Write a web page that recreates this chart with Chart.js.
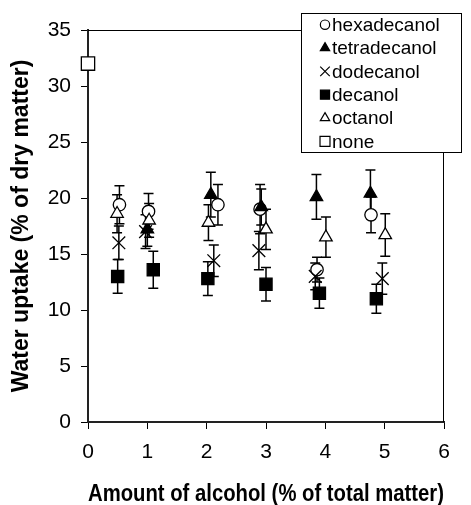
<!DOCTYPE html>
<html>
<head>
<meta charset="utf-8">
<script src="https://cdn.jsdelivr.net/npm/chart.js@4/dist/chart.umd.min.js"></script>
<style>
  html, body { margin: 0; padding: 0; background: #fff; }
  #wrap { width: 471px; height: 505px; }
</style>
</head>
<body>
<div id="wrap"><canvas id="c" width="471" height="505"></canvas></div>
<script>
// ---- data ----
const seriesNames = ['hexadecanol', 'tetradecanol', 'dodecanol', 'decanol', 'octanol', 'none'];

const hexadecanolX = [0.53, 1.02, 2.19, 2.90, 3.86, 4.77];
const hexadecanolY = [19.4, 18.8, 19.4, 19.0, 13.6, 18.5];
const hexadecanolErr = [1.7, 1.6, 1.8, 2.2, 1.1, 1.6];

const tetradecanolX = [1.00, 2.07, 2.92, 3.85, 4.76];
const tetradecanolY = [17.2, 20.3, 19.2, 20.1, 20.4];
const tetradecanolErr = [1.5, 2.0, 1.6, 2.0, 2.1];

const dodecanolX = [0.52, 0.97, 2.12, 2.88, 3.83, 4.96];
const dodecanolY = [16.0, 17.0, 14.4, 15.3, 13.0, 12.8];
const dodecanolErr = [1.5, 1.5, 1.4, 1.7, 1.2, 1.4];

const decanolX = [0.50, 1.10, 2.02, 3.00, 3.90, 4.86];
const decanolY = [13.0, 13.6, 12.8, 12.3, 11.5, 11.0];
const decanolErr = [1.5, 1.65, 1.5, 1.5, 1.35, 1.3];

const octanolX = [0.49, 1.03, 2.03, 3.00, 4.01, 5.01];
const octanolY = [18.6, 18.0, 17.8, 17.2, 16.5, 16.7];
const octanolErr = [1.7, 1.5, 1.6, 1.8, 1.8, 1.9];

const noneX = [0];
const noneY = [32.0];
const noneErr = [0];

const xTicks = [0, 1, 2, 3, 4, 5, 6];
const yTicks = [0, 5, 10, 15, 20, 25, 30, 35];

const xTitle = 'Amount of alcohol (% of total matter)';
const yTitle = 'Water uptake (% of dry matter)';

// ---- build datasets ----
function pts(xs, ys) { return xs.map((x, i) => ({ x: x, y: ys[i] })); }

const styles = [
  { pointStyle: 'circle',   radius: 6.2, fill: '#ffffff' },
  { pointStyle: 'triangle', radius: 7.2, fill: '#000000' },
  { pointStyle: 'crossRot', radius: 9.0, fill: '#000000' },
  { pointStyle: 'rect',     radius: 8.6, fill: '#000000' },
  { pointStyle: 'triangle', radius: 7.2, fill: '#ffffff' },
  { pointStyle: 'rect',     radius: 9.4, fill: '#ffffff' }
];
const xsAll = [hexadecanolX, tetradecanolX, dodecanolX, decanolX, octanolX, noneX];
const ysAll = [hexadecanolY, tetradecanolY, dodecanolY, decanolY, octanolY, noneY];
const errAll = [hexadecanolErr, tetradecanolErr, dodecanolErr, decanolErr, octanolErr, noneErr];

const datasets = seriesNames.map((name, i) => ({
  label: name,
  data: pts(xsAll[i], ysAll[i]),
  errors: errAll[i],
  pointStyle: styles[i].pointStyle,
  pointRadius: styles[i].radius,
  pointHoverRadius: styles[i].radius,
  pointBackgroundColor: styles[i].fill,
  pointBorderColor: '#000000',
  pointBorderWidth: 1.3,
  showLine: false,
  clip: false,
  order: -i
}));

const FONT = "'Liberation Sans', Arial, Helvetica, sans-serif";

// error bars (drawn beneath markers)
const errorBarPlugin = {
  id: 'errorBars',
  beforeDatasetsDraw(chart) {
    const ctx = chart.ctx;
    const xs = chart.scales.x, ys = chart.scales.y;
    ctx.save();
    ctx.strokeStyle = '#000';
    ctx.lineWidth = 1.5;
    chart.data.datasets.forEach(ds => {
      ds.data.forEach((p, i) => {
        const e = ds.errors[i];
        if (!e) return;
        const px = xs.getPixelForValue(p.x);
        const top = ys.getPixelForValue(p.y + e);
        const bot = ys.getPixelForValue(p.y - e);
        ctx.beginPath();
        ctx.moveTo(px, top); ctx.lineTo(px, bot);
        ctx.moveTo(px - 5, top); ctx.lineTo(px + 5, top);
        ctx.moveTo(px - 5, bot); ctx.lineTo(px + 5, bot);
        ctx.stroke();
      });
    });
    ctx.restore();
  }
};

// plot frame (top and right edges)
const framePlugin = {
  id: 'frame',
  beforeDatasetsDraw(chart) {
    const a = chart.chartArea, ctx = chart.ctx;
    ctx.save();
    ctx.strokeStyle = '#000';
    ctx.lineWidth = 1;
    ctx.beginPath();
    ctx.moveTo(a.left, a.top + 0.5);
    ctx.lineTo(a.right - 0.5, a.top + 0.5);
    ctx.lineTo(a.right - 0.5, a.bottom);
    ctx.stroke();
    ctx.restore();
  }
};

// boxed legend
const legendPlugin = {
  id: 'boxLegend',
  afterDraw(chart) {
    const ctx = chart.ctx;
    const box = { left: 301, top: 13, right: 462, bottom: 153 };
    ctx.save();
    ctx.fillStyle = '#fff';
    ctx.fillRect(box.left, box.top, box.right - box.left, box.bottom - box.top);
    ctx.strokeStyle = '#000';
    ctx.lineWidth = 1;
    ctx.strokeRect(box.left + 0.5, box.top + 0.5, box.right - box.left - 1, box.bottom - box.top - 1);
    const step = (box.bottom - box.top) / chart.data.datasets.length;
    chart.data.datasets.forEach((ds, i) => {
      const cy = box.top + step * (i + 0.5);
      ctx.fillStyle = ds.pointBackgroundColor;
      ctx.strokeStyle = '#000';
      ctx.lineWidth = 1.2;
      Chart.helpers.drawPoint(ctx, {
        pointStyle: ds.pointStyle,
        radius: ds.pointRadius * 0.75,
        rotation: 0,
        borderWidth: 1.2
      }, 325, cy);
      ctx.fillStyle = '#000';
      ctx.font = '19px ' + FONT;
      ctx.textAlign = 'left';
      ctx.textBaseline = 'middle';
      ctx.fillText(ds.label, 332, cy + 1);
    });
    ctx.restore();
  }
};

new Chart(document.getElementById('c'), {
  type: 'scatter',
  data: { datasets: datasets },
  plugins: [errorBarPlugin, framePlugin, legendPlugin],
  options: {
    responsive: false,
    animation: false,
    devicePixelRatio: 1,
    layout: { padding: { top: 30, right: 27, left: 0, bottom: 0 } },
    plugins: { legend: { display: false }, tooltip: { enabled: false } },
    scales: {
      x: {
        type: 'linear',
        min: 0, max: 6,
        afterFit(s) { s.height = 83; },
        afterBuildTicks(s) { s.ticks = xTicks.map(v => ({ value: v })); },
        ticks: { color: '#000', font: { family: FONT, size: 21 }, padding: 11, maxRotation: 0 },
        grid: { drawOnChartArea: false, drawTicks: true, tickLength: 7, color: '#000', lineWidth: 1 },
        border: { display: true, color: '#222', width: 2 },
        title: { display: true, text: xTitle, color: '#000',
                 font: { family: FONT, size: 23, weight: 'bold', lineHeight: 1.0 },
                 padding: { top: 0, bottom: -1 } }
      },
      y: {
        type: 'linear',
        min: 0, max: 35,
        afterFit(s) { s.width = 88; },
        afterBuildTicks(s) { s.ticks = yTicks.map(v => ({ value: v })); },
        ticks: { color: '#000', font: { family: FONT, size: 21 }, padding: 10 },
        grid: { drawOnChartArea: false, drawTicks: true, tickLength: 7, color: '#000', lineWidth: 1 },
        border: { display: true, color: '#222', width: 2 },
        title: { display: true, text: yTitle, color: '#000',
                 font: { family: FONT, size: 23, weight: 'bold', lineHeight: 1.2 },
                 padding: { top: 8, bottom: 0 } }
      }
    }
  }
});
</script>
</body>
</html>
